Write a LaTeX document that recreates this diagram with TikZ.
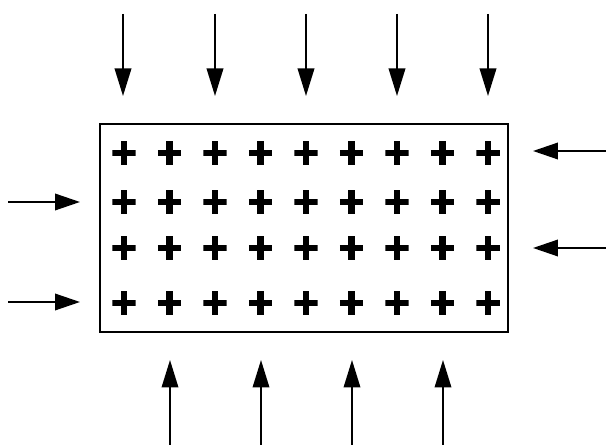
\documentclass[tikz,border=0pt]{standalone}
\usetikzlibrary{arrows.meta}
\begin{document}
\begin{tikzpicture}[x=0.02cm,y=-0.02cm,
  plusmark/.style={minimum size=4.7mm, inner sep=0pt, outer sep=0pt,
    path picture={\draw[line width=1.25mm]
      (path picture bounding box.north) -- (path picture bounding box.south)
      (path picture bounding box.west) -- (path picture bounding box.east);}},
  vload/.style={line width=0.4mm, -{Triangle[length=5.5mm,width=3.3mm]}},
  hload/.style={line width=0.4mm, -{Triangle[length=5mm,width=3.3mm]}},
  wall/.style={draw, line width=0.4mm, inner sep=0pt,
    minimum width=8.18cm, minimum height=4.18cm}]
\fill[white] (0,0) rectangle (606,445);
\useasboundingbox (0,0) rectangle (606,445);
\node[wall] (box) at (304,228) {};
\foreach \c [count=\i] in {124,169.5,215,260.5,306,351.5,397,442.5,488}{
  \foreach \r [count=\j] in {153,202,248,303}{
    \node[plusmark] (p\i-\j) at (\c,\r) {};
  }
}
% top loads
\foreach \x [count=\k] in {123,215,306,397,488}{
  \coordinate (ts\k) at (\x,14);
  \coordinate (tt\k) at (\x,96);
  \draw[vload] (ts\k) -- (tt\k);
}
% bottom loads
\foreach \x [count=\k] in {170,261,352,443}{
  \coordinate (bs\k) at (\x,445);
  \coordinate (bt\k) at (\x,360);
  \draw[vload] (bs\k) -- (bt\k);
}
% left loads
\foreach \y [count=\k] in {202,302}{
  \coordinate (ls\k) at (8,\y);
  \coordinate (lt\k) at (80,\y);
  \draw[hload] (ls\k) -- (lt\k);
}
% right loads
\foreach \y [count=\k] in {151,248}{
  \coordinate (rs\k) at (606,\y);
  \coordinate (rt\k) at (533,\y);
  \draw[hload] (rs\k) -- (rt\k);
}
\end{tikzpicture}
\end{document}
